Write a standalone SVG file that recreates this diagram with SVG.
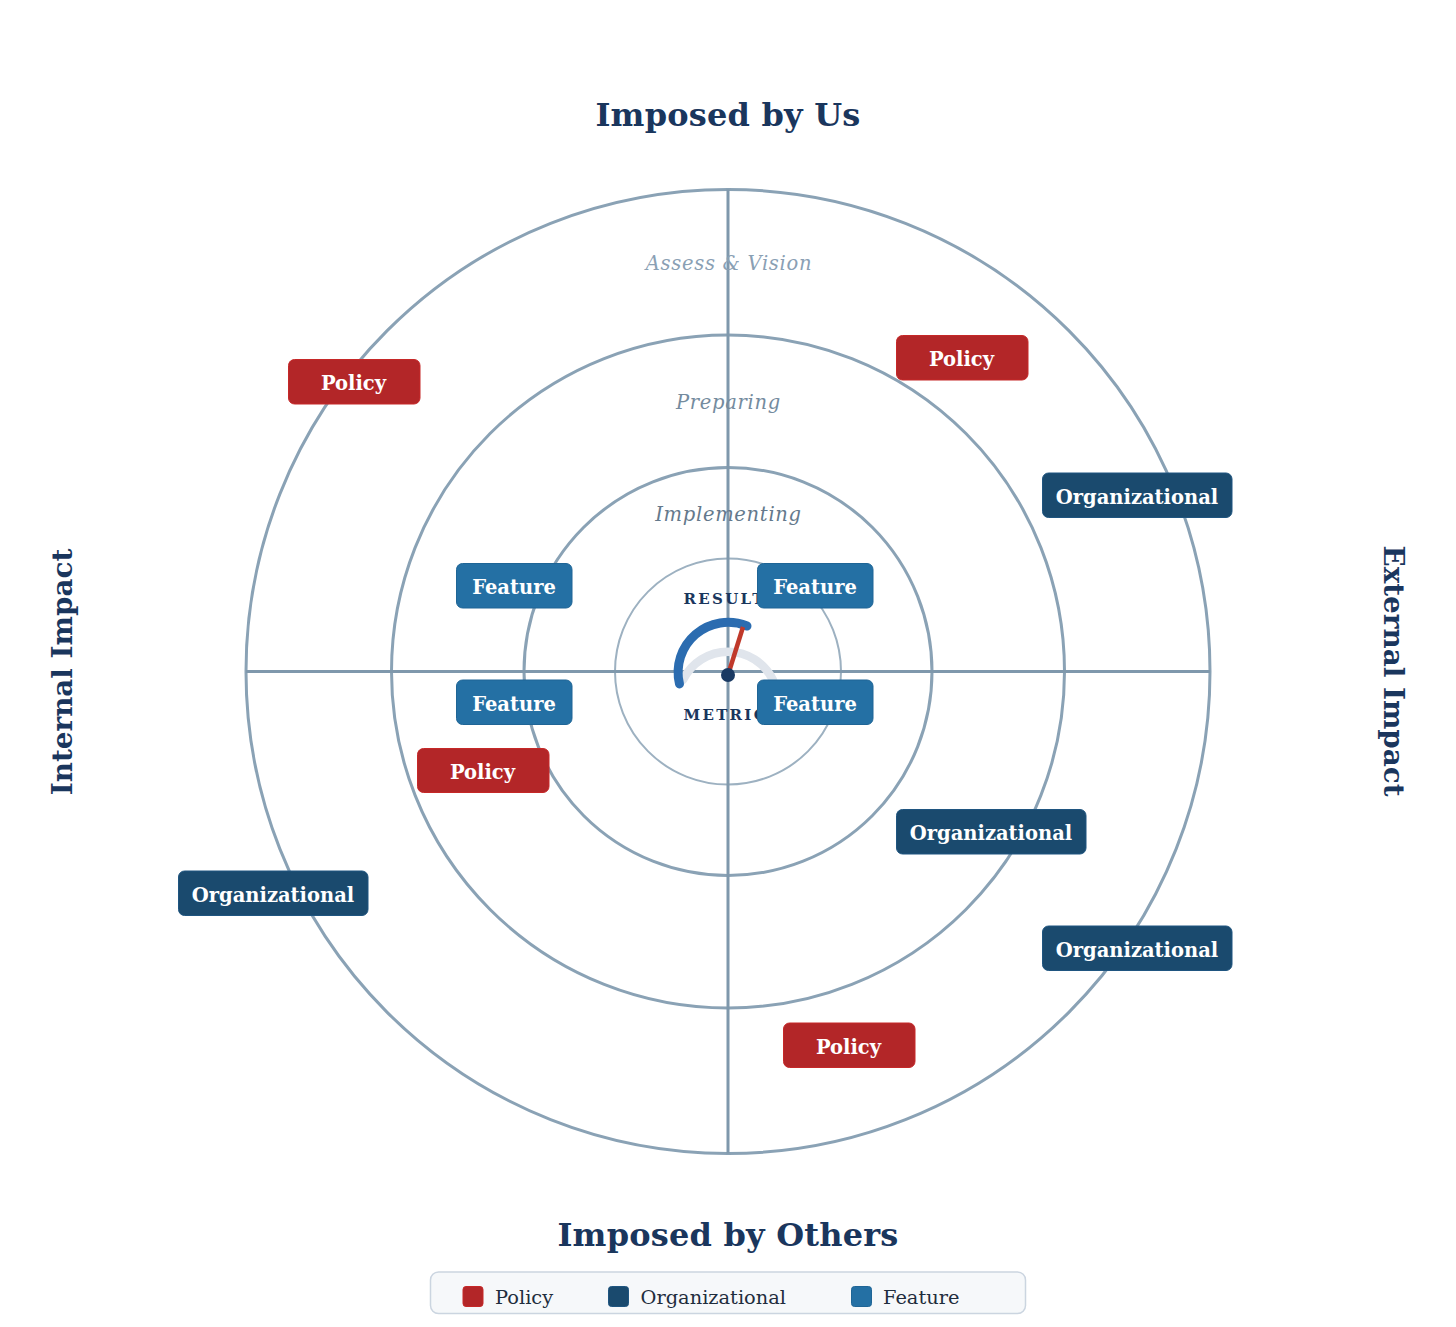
<svg xmlns="http://www.w3.org/2000/svg" width="1456" height="1327" viewBox="0 0 1456 1327">
<style>
text{font-family:"DejaVu Serif",serif}
.ring{fill:none;stroke:#8aa2b5;stroke-width:3}
.axis{stroke:#7f98ac;stroke-width:3}
.title{font-size:32px;letter-spacing:.2px;font-weight:bold;fill:#1a365d;text-anchor:middle}
.side{font-size:27.800px;font-weight:bold;fill:#1a365d;text-anchor:middle}
.ringlabel{font-size:19.5px;letter-spacing:.7px;font-style:italic;text-anchor:middle}
.gauge{font-size:15px;font-weight:bold;letter-spacing:2.3px;fill:#1a365d}
.tag{stroke-width:1}
.tagtext{font-size:19.5px;font-weight:bold;fill:#fff;text-anchor:middle}
.pol{fill:#b32628;stroke:#c62828}
.org{fill:#1a4a6e;stroke:#1f5580}
.fea{fill:#2470a4;stroke:#1f6596}
.legtext{font-size:19.4px;fill:#1f2d3d}
</style>
<rect width="1456" height="1327" fill="#fff"/>
<g id="rings">
<circle class="ring" cx="728" cy="671.5" r="482"/>
<circle class="ring" cx="728" cy="671.5" r="336.5"/>
<circle class="ring" cx="728" cy="671.5" r="204"/>
<circle cx="728" cy="671.5" r="113" fill="none" stroke="#9db1c1" stroke-width="2"/>
</g>
<g id="connectors">
<line class="axis" x1="246" y1="671.5" x2="1210" y2="671.5"/>
<line class="axis" x1="728" y1="189.5" x2="728" y2="1153.5"/>
</g>
<g id="titles">
<text class="title" x="728" y="126">Imposed by Us</text>
<text class="title" x="728" y="1246">Imposed by Others</text>
<text class="side" transform="translate(72 672) rotate(-90)">Internal Impact</text>
<text class="side" transform="translate(1384 671) rotate(90)">External Impact</text>
</g>
<g id="ring-labels">
<text class="ringlabel" x="729" y="270" fill="#8aa0b4">Assess &amp; Vision</text>
<text class="ringlabel" x="728.500" y="409" fill="#748b9e">Preparing</text>
<text class="ringlabel" x="728.500" y="521" fill="#64798c">Implementing</text>
</g>
<g id="gauge">
<text class="gauge" x="683.500" y="604">RESULTS</text>
<text class="gauge" x="683.500" y="720">METRICS</text>
<path d="M683 680A50 50 0 0 1 773 680" fill="none" stroke="#e0e5ec" stroke-width="8.500" stroke-linecap="round"/>
<path d="M679.500 684A50 50 0 0 1 747 626" fill="none" stroke="#2b6cb0" stroke-width="9" stroke-linecap="round"/>
<line x1="728" y1="675" x2="743" y2="627" stroke="#c0392b" stroke-width="4.500"/>
<circle cx="728" cy="675" r="7" fill="#1a3a63"/>
</g>
<g id="node-policy-1"><rect class="tag pol" x="288.500" y="359.500" width="131.500" height="44.500" rx="6"/><text class="tagtext" x="353.500" y="390">Policy</text></g>
<g id="node-policy-2"><rect class="tag pol" x="896.500" y="335.500" width="131.500" height="44.500" rx="6"/><text class="tagtext" x="961.500" y="366">Policy</text></g>
<g id="node-policy-3"><rect class="tag pol" x="417.500" y="748.500" width="131.500" height="44" rx="6"/><text class="tagtext" x="482.500" y="778.500">Policy</text></g>
<g id="node-policy-4"><rect class="tag pol" x="783.500" y="1023" width="131.500" height="44.500" rx="6"/><text class="tagtext" x="848.500" y="1053.500">Policy</text></g>
<g id="node-org-1"><rect class="tag org" x="1042.500" y="473" width="189.500" height="44.500" rx="6"/><text class="tagtext" x="1137" y="503.500">Organizational</text></g>
<g id="node-org-2"><rect class="tag org" x="896.500" y="809.500" width="189.500" height="44.500" rx="6"/><text class="tagtext" x="991" y="840">Organizational</text></g>
<g id="node-org-3"><rect class="tag org" x="178.500" y="871" width="189.500" height="44.500" rx="6"/><text class="tagtext" x="273" y="901.500">Organizational</text></g>
<g id="node-org-4"><rect class="tag org" x="1042.500" y="926" width="189.500" height="44.500" rx="6"/><text class="tagtext" x="1137" y="956.500">Organizational</text></g>
<g id="node-feature-1"><rect class="tag fea" x="456.500" y="563.500" width="115.500" height="44.500" rx="6"/><text class="tagtext" x="514" y="594">Feature</text></g>
<g id="node-feature-2"><rect class="tag fea" x="757.500" y="563.500" width="115.500" height="44.500" rx="6"/><text class="tagtext" x="815" y="594">Feature</text></g>
<g id="node-feature-3"><rect class="tag fea" x="456.500" y="680" width="115.500" height="44.500" rx="6"/><text class="tagtext" x="514" y="710.500">Feature</text></g>
<g id="node-feature-4"><rect class="tag fea" x="757.500" y="680" width="115.500" height="44.500" rx="6"/><text class="tagtext" x="815" y="710.500">Feature</text></g>
<g id="legend">
<rect x="430.500" y="1272" width="595" height="41.500" rx="8" fill="#f6f8fa" stroke="#cbd5e0" stroke-width="1.500"/>
<rect class="tag pol" x="463" y="1286.500" width="20" height="20" rx="3"/><text class="legtext" x="495" y="1304">Policy</text>
<rect class="tag org" x="608.500" y="1286.500" width="20" height="20" rx="3"/><text class="legtext" x="640.500" y="1304">Organizational</text>
<rect class="tag fea" x="851.500" y="1286.500" width="20" height="20" rx="3"/><text class="legtext" x="883" y="1304">Feature</text>
</g>
</svg>
